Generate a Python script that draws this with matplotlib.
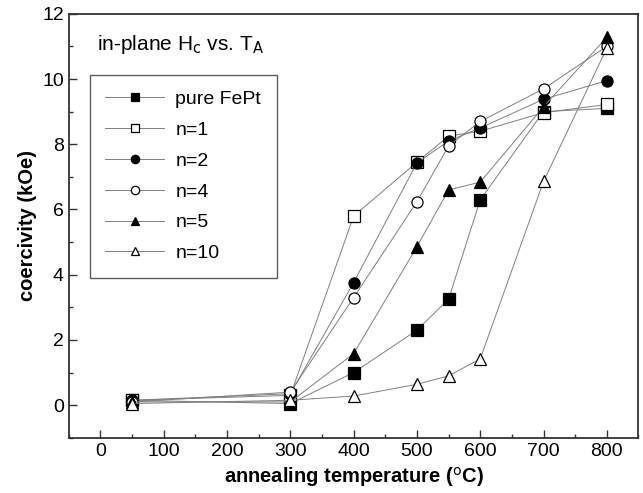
import matplotlib.pyplot as plt
from matplotlib.ticker import MultipleLocator

plt.rcParams["font.family"] = ["Liberation Sans", "DejaVu Sans"]

# annealing temperatures (deg C)
temps = [50, 300, 400, 500, 550, 600, 700, 800]

# coercivity (kOe) per sample
pure_fept = [0.15, 0.05, 1.0, 2.3, 3.25, 6.3, 9.0, 9.1]
n1 = [0.15, 0.3, 5.8, 7.45, 8.25, 8.4, 8.97, 9.22]
n2 = [0.15, 0.35, 3.76, 7.43, 8.1, 8.5, 9.38, 9.95]
n4 = [0.1, 0.4, 3.3, 6.24, 7.95, 8.7, 9.7, 11.0]
n5 = [0.1, 0.1, 1.58, 4.86, 6.6, 6.84, 9.15, 11.28]
n10 = [0.05, 0.15, 0.28, 0.64, 0.9, 1.42, 6.86, 10.95]

series = [
    ("pure FePt", pure_fept, "s", "black"),
    ("n=1", n1, "s", "white"),
    ("n=2", n2, "o", "black"),
    ("n=4", n4, "o", "white"),
    ("n=5", n5, "^", "black"),
    ("n=10", n10, "^", "white"),
]

fig = plt.figure(figsize=(6.43, 4.93), dpi=100)
ax = fig.add_axes([0.107, 0.112, 0.886, 0.860])

for label, vals, mk, fc in series:
    ax.plot(temps, vals, color="#808080", lw=0.7, marker=mk, markersize=8,
            markerfacecolor=fc, markeredgecolor="black", markeredgewidth=0.9,
            label=label)

ax.set_xlim(-50, 850)
ax.set_ylim(-1, 12)
ax.xaxis.set_major_locator(MultipleLocator(100))
ax.xaxis.set_minor_locator(MultipleLocator(50))
ax.yaxis.set_major_locator(MultipleLocator(2))
ax.yaxis.set_minor_locator(MultipleLocator(1))
ax.tick_params(which="both", direction="in", top=False, right=False,
               labelsize=14, width=1.0, color="#333333")
ax.tick_params(which="major", length=6)
ax.tick_params(which="minor", length=3)
for s in ax.spines.values():
    s.set_linewidth(1.3)
    s.set_color("#333333")

ax.set_xlabel("annealing temperature ($^{\\mathrm{o}}$C)", fontsize=14.5,
              fontweight="bold")
ax.set_ylabel("coercivity (kOe)", fontsize=14.5, fontweight="bold")

ax.text(0.049, 0.927, "in-plane H$_\\mathrm{c}$ vs. T$_\\mathrm{A}$",
        transform=ax.transAxes, fontsize=15, va="center", ha="left")

leg = ax.legend(loc="upper left", bbox_to_anchor=(0.037, 0.856), fontsize=14,
                frameon=True, fancybox=False, edgecolor="#333333",
                handlelength=3.0, labelspacing=0.68, borderpad=0.8,
                handletextpad=0.6, borderaxespad=0)
leg.get_frame().set_linewidth(1.0)
for h in leg.legend_handles:
    h.set_markersize(6)

fig.savefig("out.png", dpi=100)
